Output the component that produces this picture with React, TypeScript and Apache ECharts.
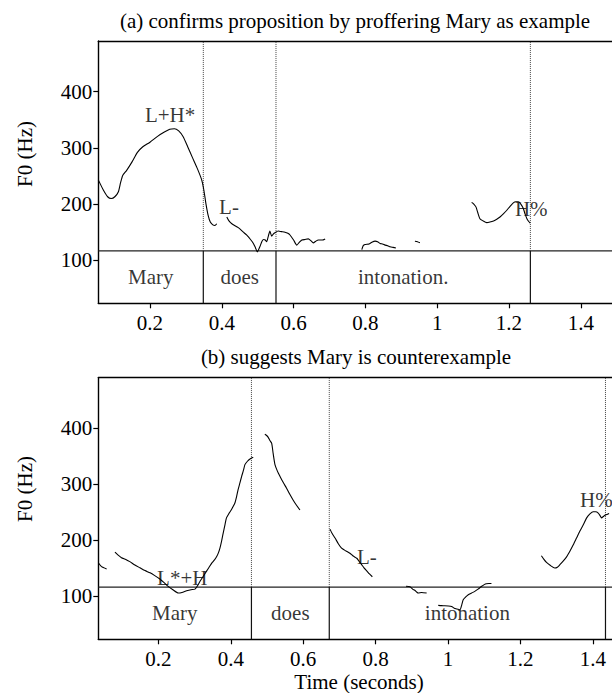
import React, { useEffect, useRef } from "react";
import * as echarts from "echarts";

const FONT = "'Liberation Serif', 'Times New Roman', 'DejaVu Serif', serif";
const FS = 21;

// ---------- data ----------
const timeTicks = [0.2, 0.4, 0.6, 0.8, 1, 1.2, 1.4];
const f0Ticks = [100, 200, 300, 400];

const titleA = "(a) confirms proposition by proffering Mary as example";
const titleB = "(b) suggests Mary is counterexample";
const yTitle = "F0 (Hz)";
const xTitle = "Time (seconds)";

const timeRangeA = [0.056, 1.487];
const timeRangeB = [0.034, 1.453];
const f0Range = [23.5, 490];
const tierLineHz = 116.6;
const tierLabelHz = 70;

const pitchA: number[][][] = [
  [[0.056,243],[0.07,225],[0.082,213],[0.092,210],[0.102,213],[0.112,222],[0.118,238],[0.124,251],[0.135,260],[0.15,275],[0.165,292],[0.18,302],[0.2,310],[0.22,320],[0.24,328],[0.255,333],[0.268,334],[0.28,330],[0.292,320],[0.305,302],[0.318,283],[0.332,263],[0.344,243],[0.35,225],[0.356,200],[0.362,180],[0.368,168],[0.375,163],[0.381,162],[0.386,165]],
  [[0.414,177],[0.42,170],[0.428,165],[0.446,158],[0.46,150],[0.469,145],[0.48,137],[0.488,130],[0.494,122],[0.499,115],[0.506,124],[0.512,134],[0.517,137],[0.521,136],[0.525,133],[0.53,144],[0.534,152],[0.539,143],[0.544,147],[0.548,149],[0.557,152],[0.566,151],[0.576,150],[0.584,148],[0.59,145],[0.6,136],[0.609,127],[0.616,132],[0.623,136],[0.632,137],[0.641,138],[0.648,135],[0.655,131],[0.662,134],[0.669,136],[0.68,136],[0.688,138]],
  [[0.79,119],[0.794,126],[0.799,128],[0.81,129],[0.818,132],[0.827,134],[0.834,133],[0.841,130],[0.848,129],[0.855,127],[0.862,126],[0.869,124],[0.877,123],[0.885,122]],
  [[0.938,134],[0.945,133],[0.952,131]],
  [[1.096,203],[1.102,200],[1.108,195],[1.113,185],[1.119,174],[1.128,170],[1.138,167],[1.147,168],[1.157,170],[1.166,173],[1.175,177],[1.185,183],[1.194,189],[1.203,196],[1.212,202],[1.219,204],[1.226,204],[1.233,200],[1.24,192],[1.245,182],[1.25,174],[1.255,169],[1.259,166]],
];

const pitchB: number[][][] = [
  [[0.034,160],[0.043,153],[0.057,149]],
  [[0.08,179],[0.088,174],[0.098,169],[0.11,166],[0.121,162],[0.135,156],[0.149,151],[0.163,146],[0.177,142],[0.19,137],[0.204,131],[0.215,125],[0.227,118],[0.24,112],[0.255,106],[0.265,107],[0.278,110],[0.29,112],[0.301,113],[0.308,119],[0.315,127],[0.324,136],[0.333,145],[0.34,152],[0.347,159],[0.355,165],[0.361,171],[0.366,178],[0.37,186],[0.375,200],[0.379,213],[0.384,228],[0.388,240],[0.395,248],[0.402,255],[0.411,266],[0.416,278],[0.42,290],[0.425,302],[0.43,314],[0.435,325],[0.439,335],[0.446,341],[0.453,345],[0.462,348]],
  [[0.494,389],[0.499,387],[0.503,384],[0.508,378],[0.513,373],[0.517,355],[0.522,335],[0.529,323],[0.536,314],[0.545,303],[0.554,293],[0.563,282],[0.572,272],[0.582,262],[0.591,254]],
  [[0.674,220],[0.68,212],[0.688,204],[0.697,194],[0.706,186],[0.718,181],[0.729,177],[0.738,172],[0.748,168],[0.755,162],[0.761,157],[0.768,151],[0.775,146],[0.783,140],[0.791,135]],
  [[0.884,118],[0.895,117],[0.902,113],[0.908,111],[0.913,108],[0.918,106],[0.927,107],[0.941,106]],
  [[0.973,84],[0.982,83.5],[0.991,83.4],[1.001,83],[1.01,82],[1.017,79],[1.024,77.5],[1.033,76],[1.038,85],[1.042,94],[1.049,99],[1.056,103],[1.065,106],[1.074,109],[1.083,113],[1.093,118],[1.1,121],[1.106,122.6],[1.113,123],[1.12,123]],
  [[1.258,172.5],[1.265,166],[1.272,160.6],[1.283,155],[1.295,150.6],[1.302,152],[1.309,156.5],[1.318,163],[1.328,171],[1.337,181],[1.346,192],[1.355,204],[1.364,216],[1.374,228],[1.383,240],[1.392,247],[1.401,251],[1.408,251],[1.415,248.6],[1.42,244],[1.424,240],[1.43,243],[1.436,245.5],[1.445,248]],
];

const boundariesA = [0.3485, 0.551, 1.2596];
const boundariesB = [0.457, 0.672, 1.435];
const wordsA = ["Mary", "does", "intonation."];
const wordsB = ["Mary", "does", "intonation"];

const toneTextsA = ["L+H*", "L-", "H%"];
const toneTimesA = [0.256, 0.42, 1.262];
const toneHzA = [358, 194.5, 191];
const toneTextsB = ["L*+H", "L-", "H%"];
const toneTimesB = [0.266, 0.776, 1.41];
const toneHzB = [133, 171, 272];

// ---------- layout ----------
const panels = [
  { pitch: pitchA, bounds: boundariesA, words: wordsA, tt: toneTextsA, tx: toneTimesA, th: toneHzA, range: timeRangeA, top: 41, height: 262.3 },
  { pitch: pitchB, bounds: boundariesB, words: wordsB, tt: toneTextsB, tx: toneTimesB, th: toneHzB, range: timeRangeB, top: 377.7, height: 261.6 },
];

const textStyle = { fontFamily: FONT, fontSize: FS, color: "#000" };

function buildOption() {
  const series: any[] = [];
  panels.forEach((p, i) => {
    const base = { xAxisIndex: i, yAxisIndex: i, silent: true, animation: false, symbol: "none", showSymbol: false };
    series.push({ ...base, type: "line", data: [[p.range[0], tierLineHz], [p.range[1], tierLineHz]], lineStyle: { color: "#222", width: 1.2 } });
    p.bounds.forEach((b) => {
      series.push({ ...base, type: "line", data: [[b, tierLineHz], [b, f0Range[1]]], lineStyle: { color: "#444", width: 1, type: "dotted" } });
      series.push({ ...base, type: "line", data: [[b, f0Range[0]], [b, tierLineHz]], lineStyle: { color: "#111", width: 1.2 } });
    });
    p.pitch.forEach((seg) => {
      series.push({ ...base, type: "line", data: seg, smooth: 0.2, lineStyle: { color: "#000", width: 1.1 } });
    });
    const edges = [p.range[0], ...p.bounds];
    const wordData = p.words.map((w, k) => ({ name: w, value: [(edges[k] + edges[k + 1]) / 2, tierLabelHz] }));
    const toneData = p.tt.map((t, k) => ({ name: t, value: [p.tx[k], p.th[k]] }));
    series.push({
      xAxisIndex: i, yAxisIndex: i, silent: true, animation: false,
      type: "scatter", symbolSize: 1, itemStyle: { color: "rgba(0,0,0,0)" },
      clip: false,
      data: [...wordData, ...toneData],
      label: { show: true, position: "inside", formatter: "{b}", ...textStyle },
    });
  });

  const axisLineStyle = { color: "#000", width: 1.4 };
  const gtext = (text: string, x: number, y: number, rotation = 0) => ({
    type: "text", x, y, rotation,
    style: { text, fontFamily: FONT, fontSize: FS, fill: "#000", align: "center", verticalAlign: "middle" },
  });
  return {
    animation: false,
    backgroundColor: "#fff",
    grid: panels.map((p) => ({ left: 98.3, right: 0, top: p.top, height: p.height })),
    xAxis: [
      ...panels.map((p, i) => ({
        type: "value", gridIndex: i, position: "bottom", min: p.range[0], max: p.range[1],
        axisLine: { show: true, onZero: false, lineStyle: axisLineStyle },
        axisTick: { show: true, length: 5, customValues: timeTicks, lineStyle: { color: "#000", width: 1.2 } },
        axisLabel: { show: true, customValues: timeTicks, margin: 9, formatter: (v: number) => String(v), ...textStyle },
        splitLine: { show: false },
      })),
      ...panels.map((p, i) => ({
        type: "value", gridIndex: i, position: "top", min: p.range[0], max: p.range[1],
        axisLine: { show: true, onZero: false, lineStyle: axisLineStyle },
        axisTick: { show: false }, axisLabel: { show: false }, splitLine: { show: false },
      })),
    ],
    yAxis: panels.map((p, i) => ({
      type: "value", gridIndex: i, min: f0Range[0], max: f0Range[1],
      axisLine: { show: true, onZero: false, lineStyle: axisLineStyle },
      axisTick: { show: true, length: 5, customValues: f0Ticks, lineStyle: { color: "#000", width: 1.2 } },
      axisLabel: { show: true, customValues: f0Ticks, margin: 6, ...textStyle },
      splitLine: { show: false },
    })),
    graphic: [
      gtext(titleA, 355, 21),
      gtext(titleB, 356, 357),
      gtext(xTitle, 359, 682),
      gtext(yTitle, 25, 154, Math.PI / 2),
      gtext(yTitle, 25, 489, Math.PI / 2),
    ],
    series,
  };
}

export default function App() {
  const ref = useRef<HTMLDivElement>(null);
  useEffect(() => {
    if (!ref.current) return;
    const chart = echarts.init(ref.current, undefined, { renderer: "svg" });
    chart.setOption(buildOption() as any);
    return () => chart.dispose();
  }, []);
  return <div ref={ref} style={{ position: "fixed", left: 0, top: 0, width: 612, height: 693, background: "#fff" }} />;
}
